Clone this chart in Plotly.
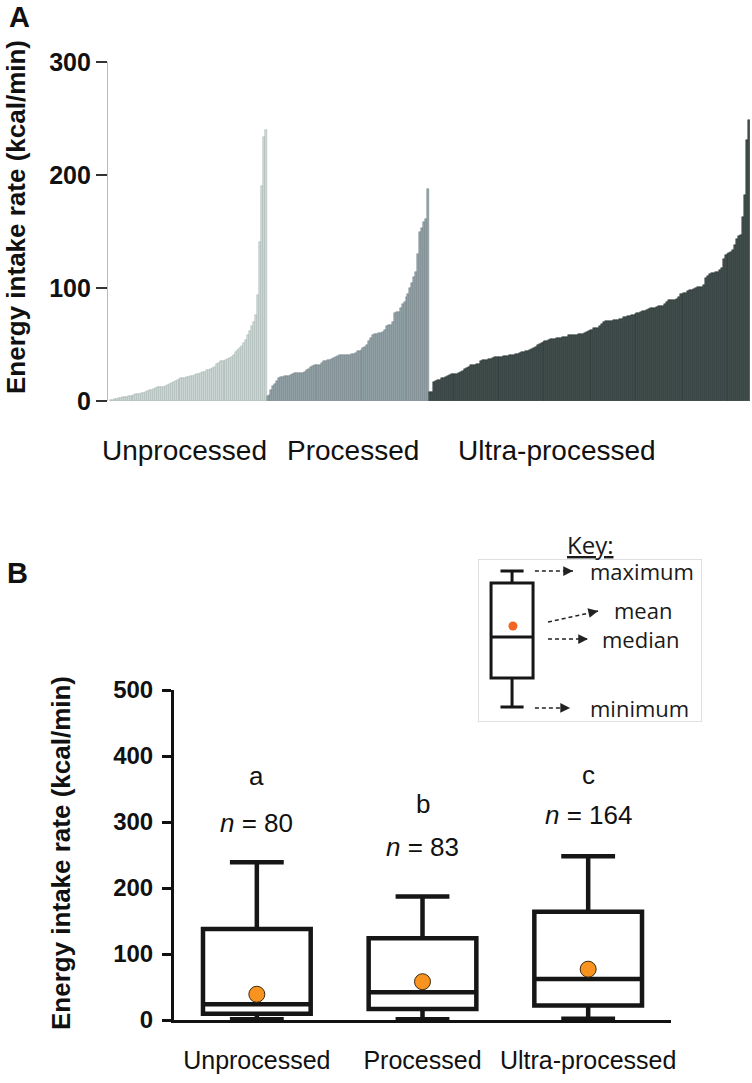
import plotly.graph_objects as go

# ---------------- data ----------------
unprocessed = [1, 1, 1.5, 2, 2.5, 3, 3.5, 3.5, 3.5, 4,
               4, 4.5, 5.5, 6, 6, 6.5, 7, 7.5, 8, 9,
               9.5, 10, 10.5, 11.5, 12, 12, 12.5, 12.5, 13, 14,
               15, 15.5, 16.5, 18, 19, 19.5, 20, 20, 20.5, 21,
               21.5, 22, 22.5, 23, 23.5, 24, 24.5, 25.5, 26, 27,
               27.5, 28.5, 29.5, 30, 33, 34, 35, 35, 35.5, 36,
               37, 38, 39, 41, 43, 45, 47, 49, 51, 54,
               58, 62, 66, 70, 76, 94, 141, 190, 234, 240]

processed = [4, 5, 10, 13, 15, 18, 20, 21, 21.5, 22,
             22.5, 22.5, 23, 24, 24.5, 24.5, 24.5, 25, 25, 26,
             27.5, 28.5, 30, 31, 31.5, 31.5, 32, 32, 34, 35,
             35.5, 36, 36.5, 37, 38, 39, 40, 40.5, 40.5, 40.5,
             41, 41, 41, 41.5, 42, 42.5, 44, 44.5, 45, 47,
             48, 50, 53, 56, 58, 59, 59.5, 60, 60, 61,
             63, 66, 67, 67.5, 70, 78, 79, 79, 82, 86,
             88, 92, 95, 100, 104, 110, 114, 130, 150, 153,
             158, 161, 188]

ultra_processed = [7.7, 8, 17, 18, 18.5, 19, 20, 20.5, 21, 22,
                   23, 23.5, 23.5, 24, 24, 25, 26, 26.5, 28, 29.5,
                   30, 31.5, 32, 32, 32.5, 33, 35, 36, 36, 36.5,
                   37, 37, 38, 38.5, 38.5, 38.5, 39, 39, 39.5, 39.5,
                   40, 40.5, 41, 41, 41.5, 42, 42.5, 43, 43.5, 44,
                   44.5, 45, 46, 47, 48, 49.5, 50.5, 51, 52, 53,
                   53.5, 54, 54.5, 55, 55, 55.5, 56, 56, 56.5, 56.5,
                   57, 58, 58.5, 58.5, 58.5, 58.5, 59, 59, 59.5, 60,
                   61, 62, 62.5, 63, 64.5, 65, 65, 66, 68, 70,
                   70.5, 71, 71, 71, 71.5, 72, 72, 72.5, 73, 74,
                   74.5, 75, 75, 76, 76, 77, 78, 78, 79, 79.5,
                   80, 80.5, 81, 82, 82, 82.5, 83, 84, 84, 84.5,
                   86, 88, 89, 89, 89, 89.5, 90, 92, 95, 95,
                   95.5, 96, 97.5, 98, 98, 99, 100, 101, 101, 101,
                   103, 109, 111, 112, 113, 113.5, 114, 114, 116, 118,
                   126, 129, 130, 131, 132, 134, 138, 143, 146, 147,
                   163, 182, 231, 249]

group_names = ["Unprocessed", "Processed", "Ultra-processed"]
group_n = [80, 83, 164]
group_letters = ["a", "b", "c"]
box_minimum = [1, 1, 2]
box_lower = [9.5, 16.5, 22]
box_median = [24, 42, 62]
box_upper = [138, 124, 164]
box_maximum = [239, 187, 248]
box_mean = [39, 58, 77]

y_ticks_a = [0, 100, 200, 300]
y_ticks_b = [0, 100, 200, 300, 400, 500]

key_labels = ["maximum", "mean", "median", "minimum"]

# ---------------- layout helpers ----------------
W, H = 752, 1083


def px_x(p):
    return p / W


def px_y(p):
    return 1 - p / H


FONT = "Liberation Sans, Arial, sans-serif"
KEYFONT = "Open Sans, sans-serif"

fig = go.Figure()

# ---------------- Panel A: sorted bars ----------------
bar_styles = [
    (unprocessed, "#d3dcdb", "#9dadab"),
    (processed, "#95a5a8", "#6c7d80"),
    (ultra_processed, "#45524f", "#1c2828"),
]
start = 0
for vals, fill, edge in bar_styles:
    xs = list(range(start, start + len(vals)))
    fig.add_trace(go.Bar(
        x=xs, y=vals, width=1,
        marker=dict(color=fill, line=dict(color=edge, width=0.5)),
        xaxis="x", yaxis="y", showlegend=False, hoverinfo="skip"))
    start += len(vals)
n_bars = start

# ---------------- Panel B: box plots ----------------
fig.add_trace(go.Box(
    x=group_names, q1=box_lower, median=box_median, q3=box_upper,
    lowerfence=box_minimum, upperfence=box_maximum,
    width=0.65, whiskerwidth=0.5, boxpoints=False,
    line=dict(color="#161616", width=4.5), fillcolor="white",
    xaxis="x2", yaxis="y2", showlegend=False, hoverinfo="skip"))
fig.add_trace(go.Scatter(
    x=group_names, y=box_mean, mode="markers",
    marker=dict(size=16, color="#f7931e", line=dict(color="#3a2a10", width=1)),
    xaxis="x2", yaxis="y2", showlegend=False, hoverinfo="skip"))

# ---------------- Key (legend) ----------------
key_box_x = 0.152
fig.add_trace(go.Box(
    x=[key_box_x], q1=[0.270], median=[0.521], q3=[0.853],
    lowerfence=[0.092], upperfence=[0.926],
    width=0.1875, whiskerwidth=0.55, boxpoints=False,
    line=dict(color="#161616", width=3), fillcolor="white",
    xaxis="x3", yaxis="y3", showlegend=False, hoverinfo="skip"))
fig.add_trace(go.Scatter(
    x=[0.156], y=[0.589], mode="markers",
    marker=dict(size=9, color="#f26522"),
    xaxis="x3", yaxis="y3", showlegend=False, hoverinfo="skip"))

shapes = [dict(type="rect", xref="x3", yref="y3", x0=0, x1=1, y0=0, y1=1,
               line=dict(color="#d3d8d8", width=1.5), fillcolor="rgba(0,0,0,0)")]
annotations = []

key_arrows = [((0.254, 0.926), (0.424, 0.926)),
              ((0.3125, 0.613), (0.536, 0.681)),
              ((0.3125, 0.509), (0.491, 0.509)),
              ((0.254, 0.086), (0.411, 0.086))]
key_text_pos = [(0.491, 0.926), (0.598, 0.690), (0.545, 0.509), (0.491, 0.086)]
for (p0, p1), label, tp in zip(key_arrows, key_labels, key_text_pos):
    shapes.append(dict(type="line", xref="x3", yref="y3",
                       x0=p0[0], y0=p0[1], x1=p1[0], y1=p1[1],
                       line=dict(color="#222", width=1.5, dash="4px,3px")))
    annotations.append(dict(
        xref="x3", yref="y3", axref="x3", ayref="y3",
        x=p1[0], y=p1[1],
        ax=p1[0] - (p1[0] - p0[0]) * 0.12, ay=p1[1] - (p1[1] - p0[1]) * 0.12,
        text="", showarrow=True, arrowhead=2, arrowsize=1.3, arrowwidth=1.5,
        arrowcolor="#222"))
    annotations.append(dict(
        xref="x3", yref="y3", x=tp[0], y=tp[1], text=label,
        showarrow=False, xanchor="left", yanchor="middle",
        font=dict(family=KEYFONT, size=22, color="#1a1a1a")))

annotations.append(dict(
    xref="paper", yref="paper", x=px_x(590), y=px_y(544),
    text="<u>Key:</u>", showarrow=False, xanchor="center", yanchor="middle",
    font=dict(family=KEYFONT, size=24, color="#1a1a1a")))

# ---------------- text annotations ----------------
# panel letters
annotations.append(dict(xref="paper", yref="paper", x=px_x(19), y=px_y(17),
                        text="A", showarrow=False, xanchor="center", yanchor="middle",
                        font=dict(family=FONT, size=29, color="#111", weight="bold")))
annotations.append(dict(xref="paper", yref="paper", x=px_x(17), y=px_y(573),
                        text="B", showarrow=False, xanchor="center", yanchor="middle",
                        font=dict(family=FONT, size=29, color="#111", weight="bold")))

# axis titles
annotations.append(dict(xref="paper", yref="paper", x=px_x(16), y=px_y(217),
                        text="Energy intake rate (kcal/min)", textangle=-90,
                        showarrow=False, xanchor="center", yanchor="middle",
                        font=dict(family=FONT, size=26, color="#111", weight="bold")))
annotations.append(dict(xref="paper", yref="paper", x=px_x(61), y=px_y(853),
                        text="Energy intake rate (kcal/min)", textangle=-90,
                        showarrow=False, xanchor="center", yanchor="middle",
                        font=dict(family=FONT, size=26, color="#111", weight="bold")))

# panel A category labels
a_label_x = [184, 353, 557]
for name, lx in zip(group_names, a_label_x):
    annotations.append(dict(xref="paper", yref="paper", x=px_x(lx), y=px_y(450),
                            text=name, showarrow=False, xanchor="center", yanchor="middle",
                            font=dict(family=FONT, size=28, color="#111")))

# panel B significance letters and sample sizes
letter_y = [369, 328, 371]
n_y = [299, 262, 311]
for name, letter, n, ly, ny in zip(group_names, group_letters, group_n, letter_y, n_y):
    annotations.append(dict(xref="x2", yref="y2", x=name, y=ly, text=letter,
                            showarrow=False, xanchor="center", yanchor="middle",
                            font=dict(family=FONT, size=26, color="#111")))
    annotations.append(dict(xref="x2", yref="y2", x=name, y=ny,
                            text=f"<i>n</i> = {n}",
                            showarrow=False, xanchor="center", yanchor="middle",
                            font=dict(family=FONT, size=26, color="#111")))

fig.update_layout(
    width=W, height=H,
    margin=dict(l=0, r=0, t=0, b=0, pad=0, autoexpand=False),
    paper_bgcolor="white", plot_bgcolor="white",
    bargap=0, barmode="overlay", showlegend=False,
    xaxis=dict(domain=[px_x(108), px_x(750)], range=[-1.52, n_bars - 0.5],
               visible=False, anchor="y", automargin=False),
    yaxis=dict(domain=[px_y(401), px_y(62)], range=[0, 300], anchor="x",
               automargin=False,
               tickvals=y_ticks_a, showgrid=False, zeroline=False,
               showline=True, linecolor="#b3bdbd", linewidth=1.2,
               ticks="outside", ticklen=11, tickwidth=1.5, tickcolor="#333",
               tickfont=dict(family=FONT, size=25, color="#111", weight="bold")),
    xaxis2=dict(domain=[px_x(174), px_x(671)], type="category",
                categoryorder="array", categoryarray=group_names,
                range=[-0.5, 2.5], anchor="y2", showgrid=False, zeroline=False,
                automargin=False,
                showline=True, linecolor="#111", linewidth=3, ticks="",
                ticklabelstandoff=16,
                tickfont=dict(family=FONT, size=25, color="#111")),
    yaxis2=dict(domain=[px_y(1020), px_y(690)], range=[0, 500], anchor="x2",
                automargin=False,
                tickvals=y_ticks_b, showgrid=False, zeroline=False,
                showline=True, linecolor="#111", linewidth=3,
                ticks="outside", ticklen=9, tickwidth=3, tickcolor="#111",
                ticklabelstandoff=4,
                tickfont=dict(family=FONT, size=24, color="#111", weight="bold")),
    xaxis3=dict(domain=[px_x(478), px_x(702)], range=[0, 1], visible=False,
                anchor="y3", automargin=False),
    yaxis3=dict(domain=[px_y(722), px_y(559)], range=[0, 1], visible=False,
                anchor="x3", automargin=False),
    shapes=shapes,
    annotations=annotations,
)

# remove the browser's default 8px page margin so the figure sits at (0, 0)
fig.write_html(
    "out.html",
    config={"displayModeBar": False},
    post_script="document.body.style.margin='0';document.body.style.overflow='hidden';",
)
